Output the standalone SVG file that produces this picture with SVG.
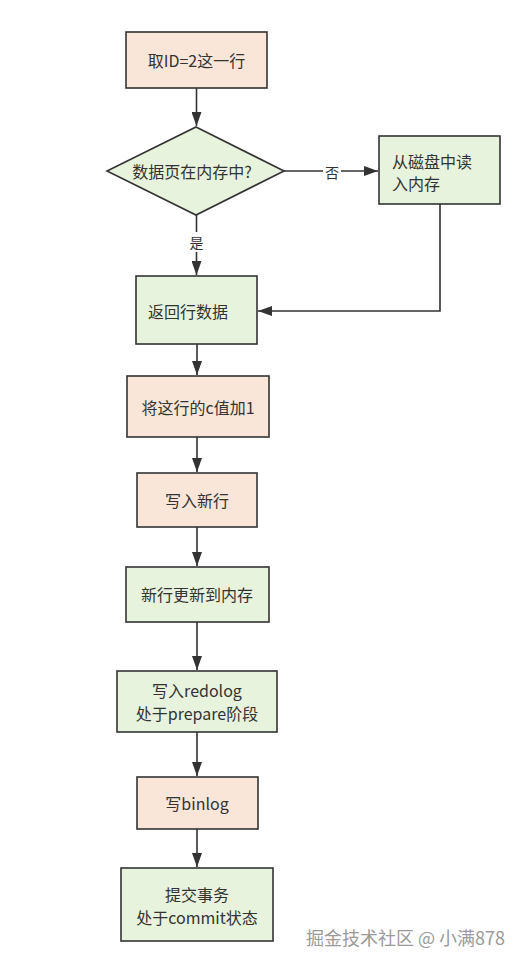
<svg xmlns="http://www.w3.org/2000/svg" width="523" height="965" viewBox="0 0 523 965">
<defs>
<style>
.o{fill:#f9e6d8;stroke:#333;stroke-width:1.6}
.g{fill:#e7f3dc;stroke:#333;stroke-width:1.6}
.t{font-family:"Noto Sans CJK SC","Noto Sans",sans-serif;font-size:16px;fill:#333;text-anchor:middle;dominant-baseline:central}
.l{fill:none;stroke:#333;stroke-width:1.6}
</style>
<marker id="a" markerWidth="14" markerHeight="10" refX="14" refY="5" orient="auto" markerUnits="userSpaceOnUse">
<path d="M0,0 L14,5 L0,10 Z" fill="#333"/>
</marker>
</defs>
<rect width="523" height="965" fill="#fff"/>
<g id="edges">
<path class="l" d="M196.5,88 V126" marker-end="url(#a)"/>
<path class="l" d="M284,171 H378" marker-end="url(#a)"/>
<rect x="323" y="162" width="18" height="20" fill="#fff"/>
<text class="t" x="332" y="172" style="font-size:14px">否</text>
<path class="l" d="M196.5,215 V275" marker-end="url(#a)"/>
<rect x="187" y="232" width="19" height="20" fill="#fff"/>
<text class="t" x="196.5" y="242" style="font-size:14px">是</text>
<path class="l" d="M440,204 V311 H258" marker-end="url(#a)"/>
<path class="l" d="M197,344 V375" marker-end="url(#a)"/>
<path class="l" d="M197,437 V472" marker-end="url(#a)"/>
<path class="l" d="M197,527 V566" marker-end="url(#a)"/>
<path class="l" d="M197,622 V670" marker-end="url(#a)"/>
<path class="l" d="M197,732 V776" marker-end="url(#a)"/>
<path class="l" d="M197,829 V867" marker-end="url(#a)"/>
</g>
<g id="n1"><rect class="o" x="126" y="32" width="141" height="56"/><text class="t" x="196.5" y="60">取ID=2这一行</text></g>
<g id="n2"><path class="g" d="M196,127 L284,171 L196,215 L107,171 Z"/><text class="t" x="192" y="171">数据页在内存中?</text></g>
<g id="n3"><rect class="g" x="379" y="136" width="121" height="68"/><text class="t" x="392" y="161" style="text-anchor:start">从磁盘中读</text><text class="t" x="392" y="183" style="text-anchor:start">入内存</text></g>
<g id="n4"><rect class="g" x="136" y="276" width="121" height="68"/><text class="t" x="188" y="311">返回行数据</text></g>
<g id="n5"><rect class="o" x="127" y="376" width="142" height="61"/><text class="t" x="198" y="407">将这行的c值加1</text></g>
<g id="n6"><rect class="o" x="137" y="473" width="120" height="54"/><text class="t" x="197" y="500">写入新行</text></g>
<g id="n7"><rect class="g" x="126" y="567" width="143" height="55"/><text class="t" x="197" y="594">新行更新到内存</text></g>
<g id="n8"><rect class="g" x="117" y="671" width="160" height="61"/><text class="t" x="197" y="690">写入redolog</text><text class="t" x="197" y="713">处于prepare阶段</text></g>
<g id="n9"><rect class="o" x="137" y="777" width="121" height="52"/><text class="t" x="197" y="803">写binlog</text></g>
<g id="n10"><rect class="g" x="121" y="868" width="152" height="73"/><text class="t" x="197" y="894">提交事务</text><text class="t" x="197" y="917">处于commit状态</text></g>
<text x="505" y="937" style="font-family:'Noto Sans CJK SC',sans-serif;font-size:18px;fill:#9a9a9a;text-anchor:end;dominant-baseline:central">掘金技术社区 @ 小满878</text>
</svg>
